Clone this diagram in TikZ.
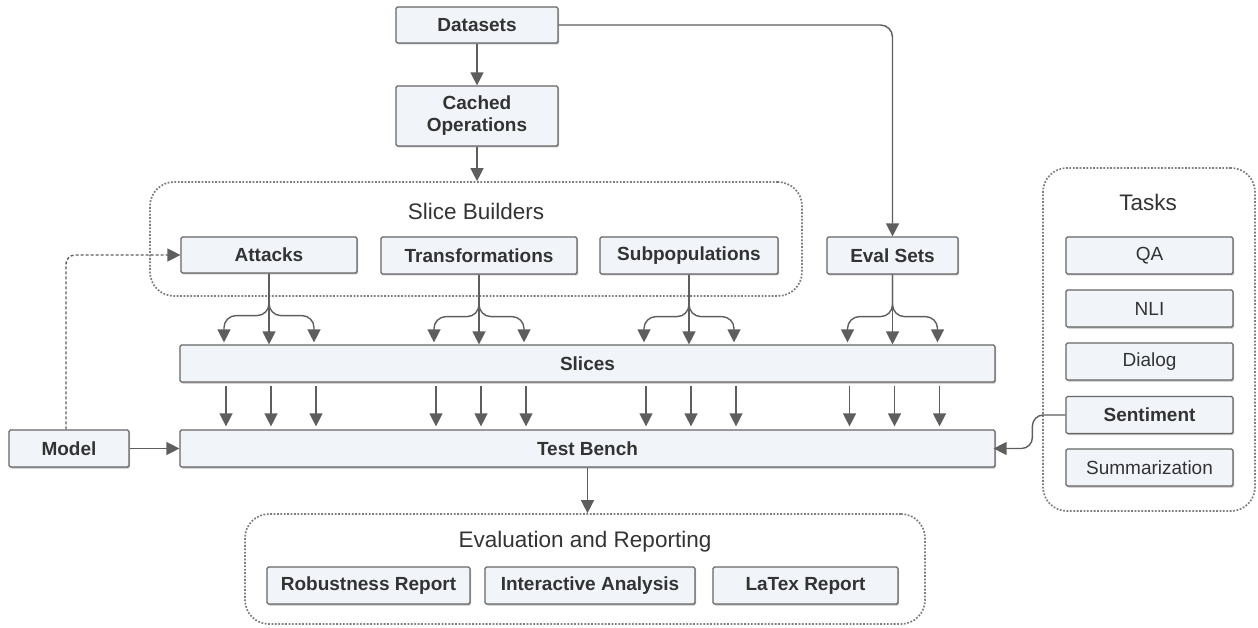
\documentclass[tikz,border=0pt]{standalone}
\usepackage{fontspec}
\setmainfont{Liberation Sans}
\usetikzlibrary{arrows.meta,shadows,calc}
\definecolor{boxfill}{HTML}{F1F5F9}
\definecolor{boxedge}{HTML}{666666}
\definecolor{linec}{HTML}{5E5E5E}
\definecolor{txt}{HTML}{333333}
\definecolor{contc}{HTML}{7E7E7E}
\tikzset{
  box/.style={draw=boxedge, line width=1.2pt, fill=boxfill, rounded corners=1.5pt,
    inner sep=0pt, align=center, text=txt,
    font=\fontsize{19}{22}\selectfont\bfseries,
    drop shadow={shadow xshift=1.2pt, shadow yshift=-1.5pt, opacity=0.25, fill=black}},
  taskbox/.style={box, font=\fontsize{19}{22}\selectfont},
  container/.style={draw=contc, line width=1.7pt, dash pattern=on 1.8pt off 1.6pt,
    rounded corners=24pt, inner sep=0pt},
  ctitle/.style={text=txt, font=\fontsize{22.5}{26}\selectfont, inner sep=0pt},
  arr/.style={draw=linec, line width=1.4pt, -{Triangle[length=13pt,width=13pt]}},
  dasharr/.style={arr, dash pattern=on 3pt off 2pt},
}
\newcommand\fanout[1]{%
  \draw[arr] (#1.south) -- (#1.south |- slices.north);
  \draw[arr, rounded corners=12pt, shorten >=2pt] (#1.south) -- ++(0,42) -| ([xshift=-45pt]#1.south |- slices.north);
  \draw[arr, rounded corners=12pt, shorten >=2pt] (#1.south) -- ++(0,42) -| ([xshift=45pt]#1.south |- slices.north);
  \foreach \d in {-43,2,47}{
    \draw[arr, shorten <=3pt, shorten >=3pt] ([xshift=\d pt]#1.south |- slices.south) -- ([xshift=\d pt]#1.south |- testbench.north);
  }%
}
\begin{document}
\begin{tikzpicture}[x=1pt, y=-1pt]
\useasboundingbox (0,0) rectangle (1258,628);

% containers
\node[container, minimum width=652pt, minimum height=114pt] (sb) at (476,239) {};
\node[ctitle] (sbtitle) at (476,211) {Slice Builders};
\node[container, minimum width=212pt, minimum height=343pt] (tasks) at (1149,339.5) {};
\node[ctitle] (taskstitle) at (1148,202) {Tasks};
\node[container, minimum width=680pt, minimum height=110pt] (evalrep) at (585,569) {};
\node[ctitle] (evaltitle) at (585,542) {Evaluation and Reporting};

% top boxes
\node[box, minimum width=162pt, minimum height=36pt] (datasets) at (477,25) {Datasets};
\node[box, minimum width=162pt, minimum height=60pt] (cached) at (477,116) {Cached\\Operations};

% slice builders
\node[box, minimum width=176pt, minimum height=36pt] (attacks) at (269,255) {Attacks};
\node[box, minimum width=196pt, minimum height=37pt] (transf) at (479,255.5) {Transformations};
\node[box, minimum width=178pt, minimum height=37pt] (subpop) at (689,255.5) {Subpopulations};
\node[box, minimum width=131pt, minimum height=37pt] (evalsets) at (892.5,255.5) {Eval Sets};

% tasks
\node[taskbox, minimum width=167pt, minimum height=37pt] (qa) at (1149.5,255.5) {QA};
\node[taskbox, minimum width=167pt, minimum height=37pt] (nli) at (1149.5,308.5) {NLI};
\node[taskbox, minimum width=167pt, minimum height=37pt] (dialog) at (1149.5,361.5) {Dialog};
\node[box, minimum width=167pt, minimum height=37pt] (sentiment) at (1149.5,415) {Sentiment};
\node[taskbox, minimum width=167pt, minimum height=37pt] (summ) at (1149.5,467.5) {Summarization};

% slices & test bench
\node[box, minimum width=815pt, minimum height=37pt] (slices) at (587.5,363.5) {Slices};
\node[box, minimum width=815pt, minimum height=37pt] (testbench) at (587.5,448.5) {Test Bench};
\node[box, minimum width=120pt, minimum height=37pt] (model) at (69,448.5) {Model};

% reports
\node[box, minimum width=203pt, minimum height=37pt] (robust) at (368.5,585.5) {Robustness Report};
\node[box, minimum width=210pt, minimum height=37pt] (interact) at (590,585.5) {Interactive Analysis};
\node[box, minimum width=185pt, minimum height=37pt] (latex) at (805.5,585.5) {LaTex Report};

% connectors
\draw[arr] (datasets) -- (cached);
\draw[arr] (cached.south) -- (cached.south |- sb.north);
\draw[arr, rounded corners=12pt] (datasets.east) -| (evalsets.north);
\fanout{attacks}
\fanout{transf}
\fanout{subpop}
\fanout{evalsets}
\draw[arr] (model) -- (testbench);
\draw[dasharr, rounded corners=9pt] ([xshift=-3pt]model.north) |- (attacks.west);
\draw[arr, rounded corners=11pt, shorten >=-2pt] (sentiment.west) -- ++(-33,0) |- (testbench.east);
\draw[arr] (testbench.south) -- (testbench.south |- evalrep.north);
\end{tikzpicture}
\end{document}
